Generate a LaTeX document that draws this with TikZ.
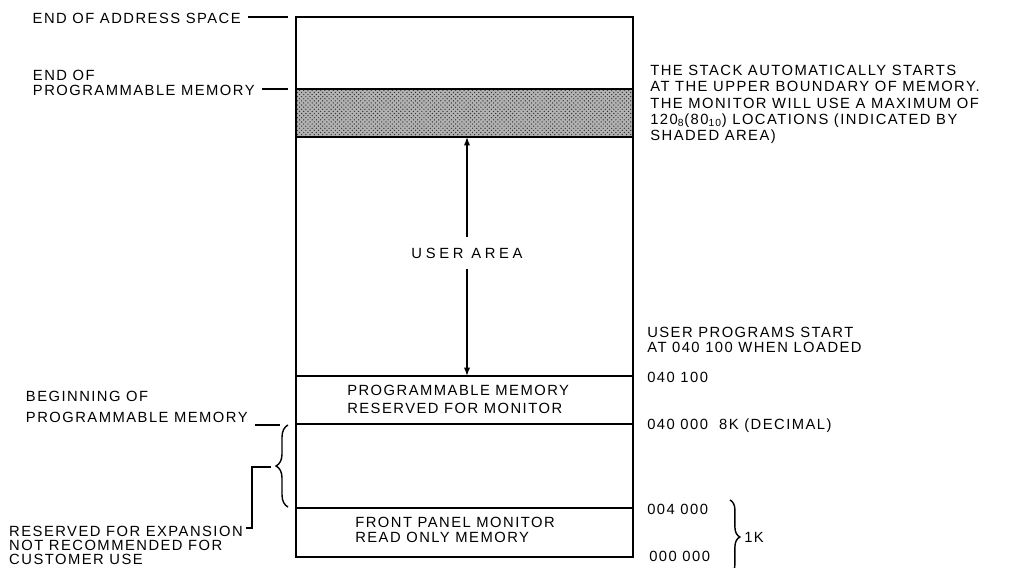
\documentclass[tikz,border=0pt]{standalone}
\usepackage{fontspec}
\setmainfont{Liberation Sans}[LetterSpace=10]
\usetikzlibrary{arrows.meta,positioning,calc,decorations.pathreplacing,patterns}

\begin{document}
\begin{tikzpicture}[x=0.025cm,y=-0.025cm,font=\fontsize{10.5}{11.5}\selectfont,
  wall/.style={line width=1.5pt},
  lead/.style={line width=1pt},
  txt/.style={inner sep=0pt,align=left,anchor=west},
  lbl/.style={inner xsep=5pt,inner ysep=0pt,align=left,anchor=east},
  brc/.style={lead,decorate,decoration={brace,amplitude=#1}},
  tip/.style={lead,-{Latex[length=6pt,width=4.5pt]},shorten <=0.25cm}]
\useasboundingbox (0,0) rectangle (1017,567);
\coordinate (top) at (296,17);
\coordinate (stk-hi) at (296,89);
\coordinate (stk-lo) at (296,137);
\coordinate (mon-hi) at (296,376);
\coordinate (mon-lo) at (296,424);
\coordinate (rom-hi) at (296,508);
\coordinate (bot) at (633,557);
\fill[black!30] (stk-hi) rectangle (633,137);
\fill[pattern=crosshatch dots,pattern color=black!80] (stk-hi) rectangle (633,137);
\draw[wall] (top) rectangle (bot);
\foreach \lvl in {stk-hi,stk-lo,mon-hi,mon-lo,rom-hi} \draw[wall] (\lvl) -- (\lvl -| bot);

\node[txt,anchor=center] (ua) at (467,253) {\addfontfeatures{LetterSpace=25}USER AREA};
\draw[tip] (ua.north) -- (ua |- stk-lo);
\draw[tip] (ua.south) -- (ua |- mon-hi);
\node[txt] (pmr) at (347,399) {PROGRAMMABLE MEMORY\\[1.3pt]RESERVED FOR MONITOR};
\node[txt] (fpm) at (355,529.5) {FRONT PANEL MONITOR\\[-0.9pt]READ ONLY MEMORY};

\node[lbl] (eas) at (248,18) {END OF ADDRESS SPACE};
\coordinate (eas-x) at (288,17);
\draw[lead] (eas.east |- eas-x) -- (eas-x);
\node[lbl] (epm) at (262,83) {END OF\\[-1.2pt]PROGRAMMABLE MEMORY};
\coordinate (epm-x) at (288,89);
\draw[lead] (epm.east |- epm-x) -- (epm-x);
\node[lbl] (bpm) at (255,407) {BEGINNING OF\\[3.8pt]PROGRAMMABLE MEMORY};
\coordinate (bpm-x) at (280,425);
\draw[lead] (bpm.east |- bpm-x) -- (bpm-x);
\coordinate (rsv-hi) at (288,425);
\coordinate (rsv-lo) at (288,507);
\coordinate (rsv-tip) at (271,467);
\draw[brc=8.5pt] (rsv-lo) -- (rsv-hi);
\node[lbl] (rfe) at (250,545.5) {RESERVED FOR EXPANSION\\[-1.6pt]NOT RECOMMENDED FOR\\[-1.6pt]CUSTOMER USE};
\coordinate (rfe-x) at (246,528);
\draw[lead] (rsv-tip) -- ++(-19,0) |- (rfe-x);

\node[txt] (stk) at (650,104.5) {THE STACK AUTOMATICALLY STARTS\\AT THE UPPER BOUNDARY OF MEMORY.\\THE MONITOR WILL USE A MAXIMUM OF\\120\textsubscript{8}(80\textsubscript{10}) LOCATIONS (INDICATED BY\\SHADED AREA)};
\node[txt] (upg) at (647,340) {USER PROGRAMS START\\[-0.9pt]AT 040 100 WHEN LOADED};
\node[txt] (a100) at (647,377) {040 100};
\node[txt] (a40k) at (647,426) {040 000 \ 8K (DECIMAL)};
\node[txt] (a4k) at (647,509) {004 000};
\node[txt] (a0) at (649,556) {000 000};
\coordinate (rom-top) at (730,500);
\coordinate (rom-bot) at (730,574);
\draw[brc=7pt] (rom-top) -- (rom-bot);
\node[txt] (kb) at (744,537) {1K};
\end{tikzpicture}
\end{document}
